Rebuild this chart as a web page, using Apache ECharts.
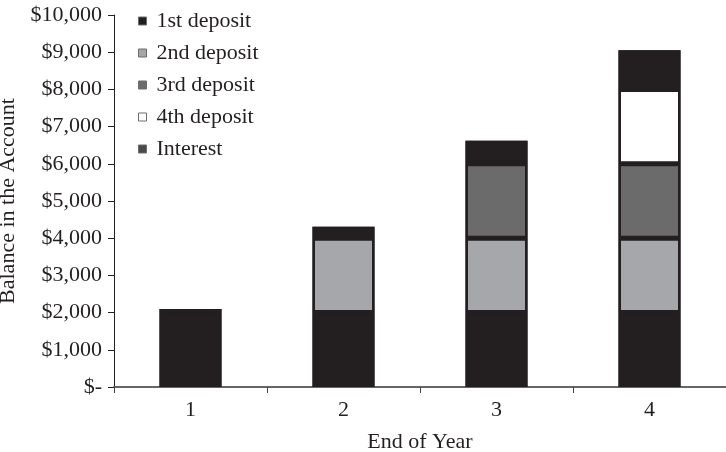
<!DOCTYPE html>
<html>
<head>
<meta charset="utf-8">
<script src="https://cdn.jsdelivr.net/npm/echarts@6/dist/echarts.min.js"></script>
<style>
  html, body { margin: 0; padding: 0; background: #fff; }
  #chart { width: 726px; height: 452px; }
</style>
</head>
<body>
<div id="chart"></div>
<script>
// categories (end of year)
var years = ['1', '2', '3', '4']
// each deposit is $2,000, interest sits on top
var deposit1 = [2000, 2000, 2000, 2000]
var deposit2 = [null, 2000, 2000, 2000]
var deposit3 = [null, null, 2000, 2000]
var deposit4 = [null, null, null, 2000]
var interest = [100, 305, 620, 1051]
// y tick labels
var yMax = 10000
var yStep = 1000

var font = 'Liberation Serif'
var fs = 22
var ink = '#231f20'

// full balance, drawn black behind the segments so no seams show
var balance = years.map(function (y, i) {
  return [deposit1, deposit2, deposit3, deposit4, interest].reduce(function (s, arr) {
    return s + (arr[i] || 0)
  }, 0)
})

function money(v) {
  if (v === 0) return '$-'
  return '$' + v.toLocaleString('en-US')
}

function bar(name, data, color, border) {
  return {
    name: name,
    type: 'bar',
    stack: 'total',
    data: data,
    barWidth: 62,
    barGap: '-100%',
    z: 3,
    itemStyle: { color: color, borderColor: ink, borderWidth: border },
    emphasis: { disabled: true }
  }
}

var myChart = echarts.init(document.getElementById('chart'))
var option = {
  animation: false,
  textStyle: { fontFamily: font },
  grid: { left: 114, right: 0, top: 15, bottom: 65, containLabel: false, outerBoundsMode: 'none' },
  legend: {
    orient: 'vertical',
    left: 133,
    top: 5,
    itemWidth: 8,
    itemHeight: 8,
    itemGap: 10,
    icon: 'rect',
    itemStyle: { borderColor: '#6d6d6d', borderWidth: 1 },
    textStyle: { fontFamily: font, fontSize: fs, color: ink, padding: [0, 0, 0, 5] },
    data: [
      { name: '1st deposit' },
      { name: '2nd deposit' },
      { name: '3rd deposit' },
      { name: '4th deposit' },
      { name: 'Interest', itemStyle: { color: '#4a4a4a' } }
    ]
  },
  xAxis: {
    type: 'category',
    data: years,
    name: 'End of Year',
    nameLocation: 'middle',
    nameGap: 44,
    nameTextStyle: { fontFamily: font, fontSize: fs, color: ink },
    axisLine: { lineStyle: { color: '#666', width: 2 } },
    axisTick: { show: true, length: 6, lineStyle: { color: '#444', width: 1 } },
    axisLabel: { fontFamily: font, fontSize: fs, color: ink, margin: 12 }
  },
  yAxis: {
    type: 'value',
    min: 0,
    max: yMax,
    interval: yStep,
    name: 'Balance in the Account',
    nameLocation: 'middle',
    nameGap: 88,
    nameTextStyle: { fontFamily: font, fontSize: fs, color: ink },
    splitLine: { show: false },
    axisLine: { show: true, lineStyle: { color: ink, width: 1 } },
    axisTick: { show: true, length: 6, lineStyle: { color: ink } },
    axisLabel: { fontFamily: font, fontSize: fs, color: ink, margin: 12, formatter: money }
  },
  series: [
    {
      name: 'balance',
      type: 'bar',
      data: balance,
      barWidth: 62,
      barGap: '-100%',
      z: 1,
      itemStyle: { color: ink, borderColor: ink, borderWidth: 2 },
      emphasis: { disabled: true }
    },
    bar('1st deposit', deposit1, ink, 2),
    bar('2nd deposit', deposit2, '#a5a7aa', 2.5),
    bar('3rd deposit', deposit3, '#6b6b6b', 2.5),
    bar('4th deposit', deposit4, '#ffffff', 2.5),
    bar('Interest', interest, ink, 2)
  ]
}
myChart.setOption(option)
</script>
</body>
</html>
